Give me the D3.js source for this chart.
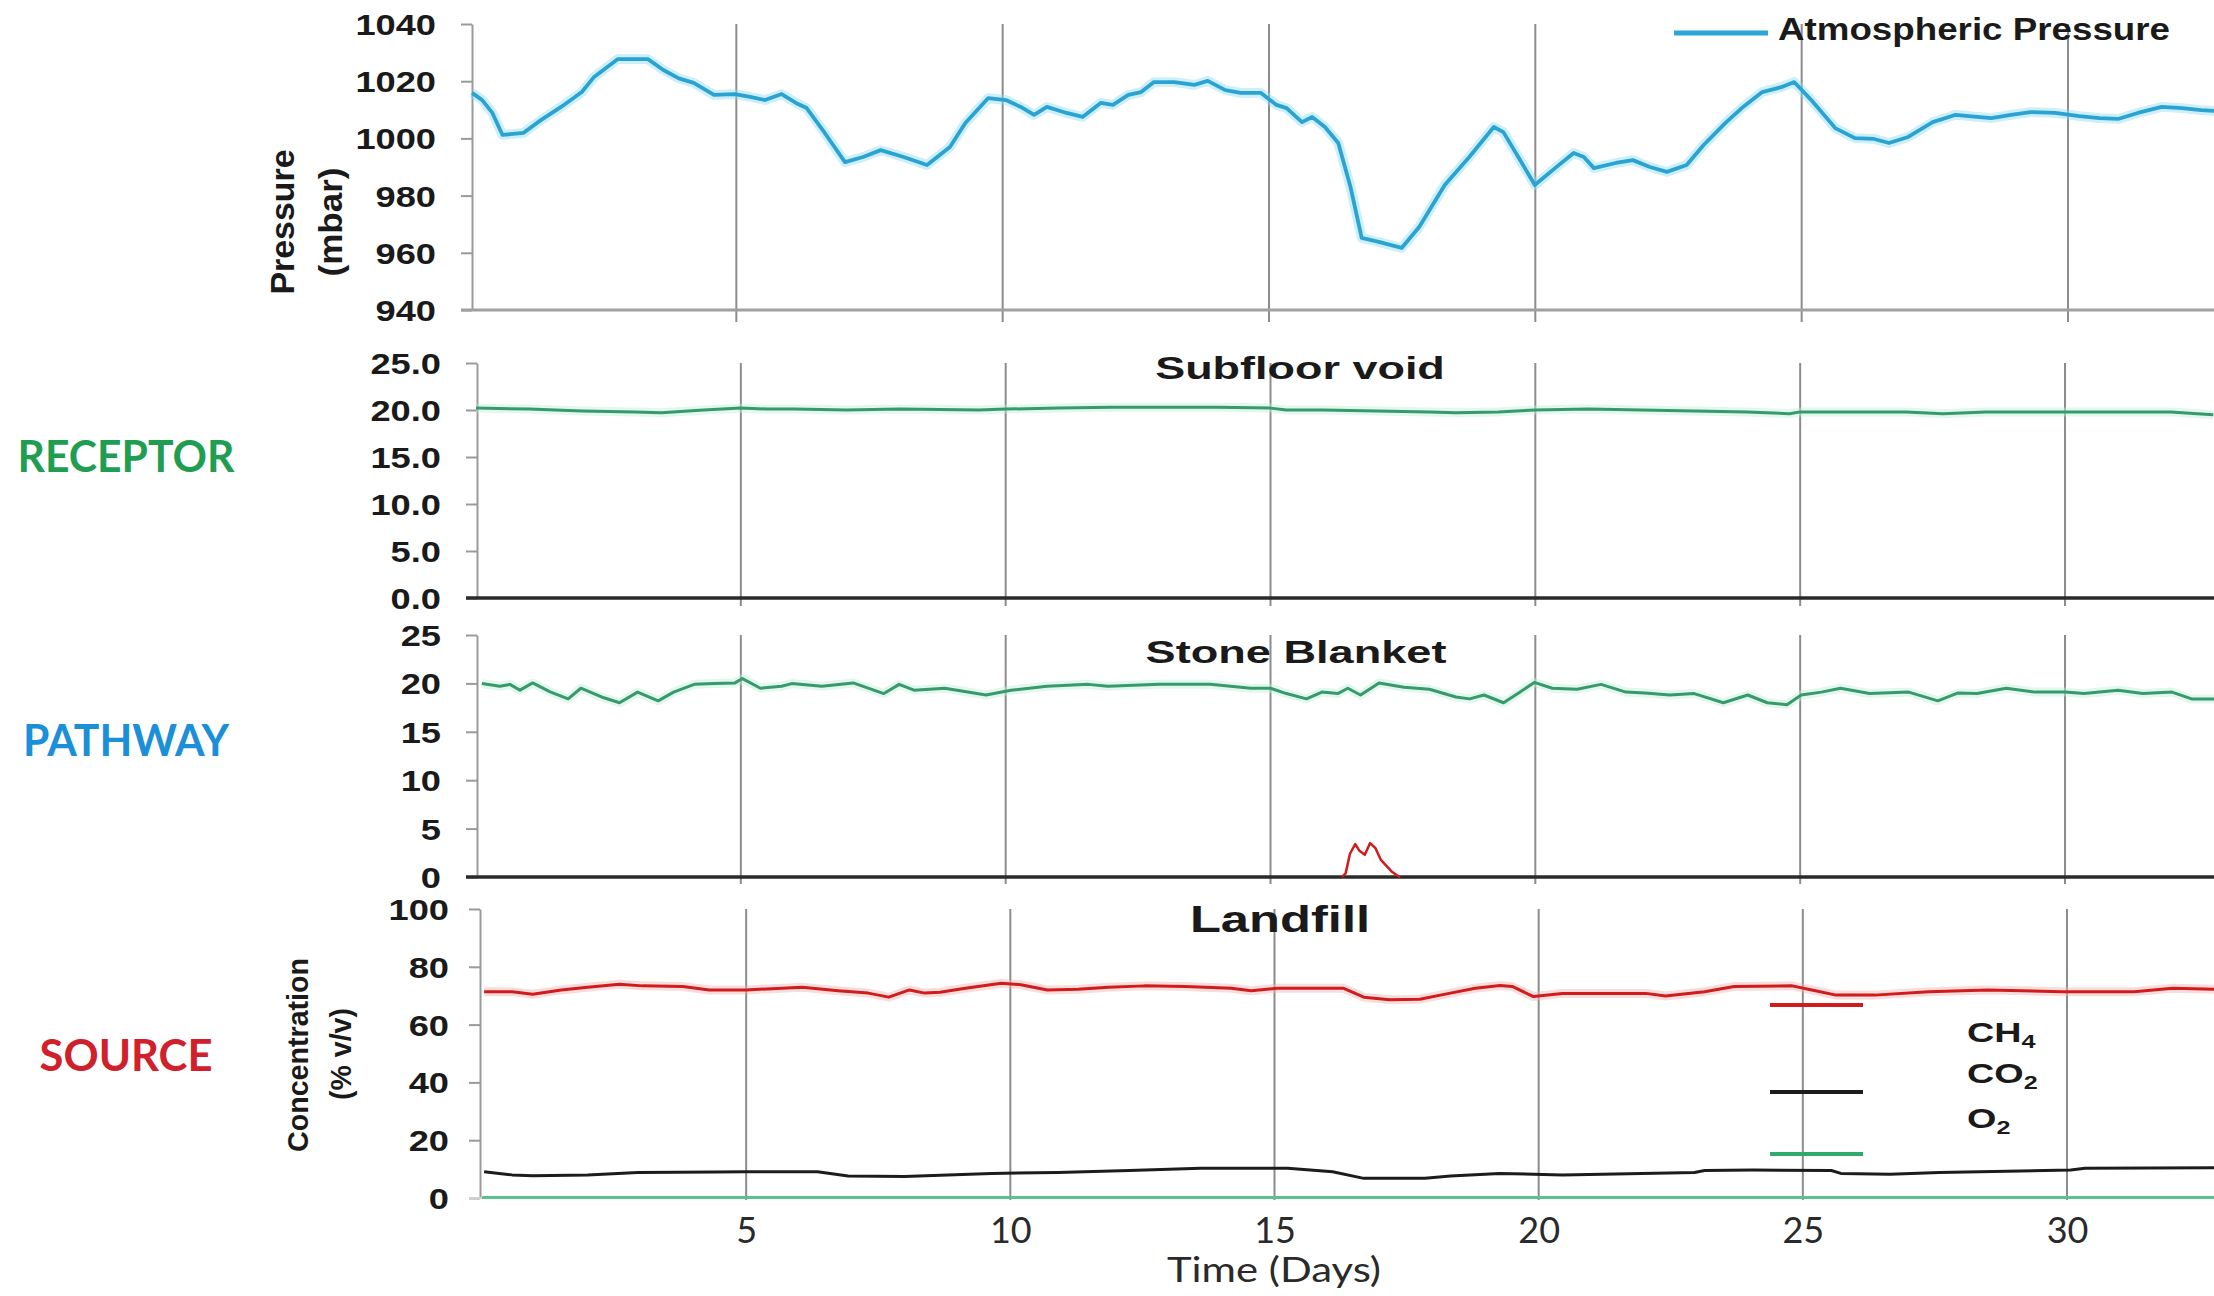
<!DOCTYPE html>
<html><head><meta charset="utf-8">
<script src="https://cdn.jsdelivr.net/npm/d3@7"></script>
<style>html,body{margin:0;padding:0;background:#fff;overflow:hidden}svg{display:block}</style>
</head><body>
<script>
// ---------- DATA ----------
const xTicks = [5, 10, 15, 20, 25, 30];
const pressureTicks = [940, 960, 980, 1000, 1020, 1040];
const receptorTicks = [0, 5, 10, 15, 20, 25];
const pathwayTicks = [0, 5, 10, 15, 20, 25];
const landfillTicks = [0, 20, 40, 60, 80, 100];

// Atmospheric pressure (mbar) [day, value]
const pressure = [[0.04,1015.9],[0.23,1013.4],[0.42,1008.9],[0.61,1001.2],[1.0,1001.9],[1.33,1006.4],[1.71,1011],[2.1,1016.2],[2.33,1021.5],[2.77,1027.7],[3.34,1027.7],[3.63,1023.9],[3.92,1021],[4.2,1019.4],[4.58,1015.2],[4.97,1015.5],[5.26,1014.5],[5.54,1013.4],[5.85,1015.5],[6.12,1012.4],[6.32,1010.6],[6.66,1001.9],[7.04,991.7],[7.38,993.5],[7.71,995.9],[8.14,993.5],[8.58,990.7],[9.01,997],[9.3,1005.4],[9.73,1014.1],[10.06,1013.4],[10.34,1011],[10.59,1008.2],[10.83,1011],[11.2,1008.9],[11.5,1007.5],[11.84,1012.4],[12.07,1011.7],[12.36,1015.2],[12.6,1016.2],[12.84,1019.7],[13.22,1019.7],[13.6,1018.7],[13.85,1020.1],[14.18,1016.9],[14.47,1015.9],[14.85,1015.9],[15.14,1011.7],[15.33,1010.6],[15.62,1005.7],[15.81,1007.5],[16.05,1004],[16.3,998.4],[16.53,983],[16.74,965.2],[17.06,963.8],[17.49,961.7],[17.82,969],[18.3,983.7],[18.76,993.5],[19.22,1004],[19.4,1002.2],[19.68,993.5],[19.99,983.7],[20.37,989.6],[20.72,994.9],[20.91,993.5],[21.1,989.6],[21.51,991.4],[21.83,992.4],[22.15,990],[22.47,988.3],[22.84,990.7],[23.16,997.7],[23.57,1005.4],[23.9,1011],[24.26,1016.2],[24.63,1018],[24.86,1019.7],[25.18,1013.4],[25.63,1003.6],[26.0,1000.1],[26.36,999.8],[26.64,998.4],[27.0,1000.5],[27.46,1005.7],[27.88,1008.2],[28.29,1007.5],[28.56,1007.1],[28.93,1008.2],[29.3,1009.2],[29.76,1008.9],[30.21,1007.8],[30.59,1007.1],[30.94,1006.8],[31.31,1008.9],[31.76,1011],[32.14,1010.6],[32.5,1009.9],[32.75,1009.6]];

// Subfloor void O2 (% v/v)
const receptorO2 = [[0,20.2],[1,20.1],[2,19.9],[3,19.8],[3.5,19.7],[4.3,20.0],[5,20.2],[5.5,20.1],[6,20.1],[7,20.0],[8,20.1],[9.5,20.0],[10,20.1],[11,20.2],[12,20.3],[13,20.3],[14,20.3],[15,20.2],[15.3,20.0],[16,20.0],[17,19.9],[18,19.8],[18.5,19.7],[19.3,19.8],[20,20.0],[21,20.1],[22,20.0],[23,19.9],[24,19.8],[24.8,19.6],[25,19.8],[26,19.8],[27,19.8],[27.7,19.6],[28.5,19.8],[30,19.8],[31,19.8],[32,19.8],[32.5,19.6],[32.8,19.5]];

// Stone blanket O2 and CH4 (% v/v)
const pathwayO2 = [[0.11,19.98],[0.45,19.7],[0.64,19.9],[0.83,19.3],[1.07,20.05],[1.4,19.13],[1.74,18.4],[1.98,19.5],[2.37,18.6],[2.71,18.0],[3.05,19.1],[3.44,18.2],[3.73,19.1],[4.12,19.9],[4.5,20.0],[4.89,20.05],[5.03,20.5],[5.37,19.5],[5.77,19.7],[5.96,19.98],[6.53,19.7],[7.12,20.05],[7.7,18.95],[7.99,19.9],[8.27,19.3],[8.85,19.5],[9.63,18.8],[10.1,19.3],[10.78,19.7],[11.56,19.9],[11.93,19.7],[12.9,19.9],[13.86,19.9],[14.63,19.5],[15.0,19.5],[15.3,18.95],[15.68,18.4],[15.97,19.1],[16.27,18.95],[16.46,19.5],[16.7,18.8],[17.05,20.05],[17.52,19.6],[18.0,19.4],[18.5,18.6],[18.76,18.4],[19.03,18.8],[19.4,18.0],[19.67,18.95],[19.98,20.1],[20.32,19.5],[20.79,19.4],[21.24,19.9],[21.71,19.1],[22.07,19.0],[22.54,18.8],[23.0,18.95],[23.55,18.0],[24.01,18.8],[24.38,18.0],[24.75,17.8],[25.02,18.8],[25.4,19.1],[25.76,19.5],[26.31,18.95],[27.05,19.1],[27.6,18.2],[27.97,19.0],[28.34,18.95],[28.89,19.5],[29.44,19.1],[30.0,19.1],[30.36,18.95],[31.0,19.3],[31.47,18.95],[32.02,19.1],[32.39,18.4],[32.83,18.4]];
const pathwayCH4 = [[16.35,0],[16.42,0.4],[16.5,2.4],[16.6,3.4],[16.68,2.7],[16.78,2.3],[16.88,3.5],[16.98,3.0],[17.08,1.8],[17.18,1.2],[17.28,0.6],[17.38,0.2],[17.45,0]];

// Landfill gas (% v/v)
const landfillCH4 = [[0.04,71.4],[0.57,71.4],[0.96,70.5],[1.5,72.0],[2.0,72.9],[2.6,74.0],[3.04,73.4],[3.8,73.2],[4.3,72.0],[5.0,72.0],[6.06,72.9],[6.74,71.7],[7.31,70.9],[7.7,69.5],[8.09,72.0],[8.38,70.9],[8.67,71.2],[9.15,72.6],[9.83,74.3],[10.2,73.8],[10.7,72.0],[11.28,72.2],[11.86,72.9],[12.54,73.4],[13.31,73.2],[14.18,72.6],[14.56,71.7],[15.05,72.6],[16.3,72.6],[16.69,69.5],[17.18,68.6],[17.75,68.8],[18.33,70.9],[18.8,72.6],[19.27,73.5],[19.5,73.2],[19.9,69.7],[20.45,70.8],[22.03,70.8],[22.4,69.9],[23.14,71.4],[23.7,73.2],[24.8,73.4],[25.17,72.0],[25.63,70.2],[26.36,70.2],[27.38,71.4],[28.5,72.0],[29.9,71.4],[31.27,71.4],[32.0,72.6],[32.8,72.2]];
const landfillCO2 = [[0.04,9.1],[0.57,8.0],[0.96,7.7],[2.0,8.0],[2.95,8.8],[4.4,9.0],[5.0,9.1],[6.35,9.1],[6.93,7.6],[7.99,7.4],[9.64,8.5],[10.9,8.8],[12.25,9.5],[13.6,10.3],[15.25,10.3],[16.1,9.1],[16.69,6.8],[17.85,6.8],[18.33,7.6],[19.26,8.5],[20.45,8.0],[22.95,8.8],[23.14,9.5],[24.05,9.7],[25.54,9.5],[25.72,8.5],[26.65,8.2],[27.58,8.8],[30.07,9.7],[30.34,10.3],[32.8,10.5]];
const landfillO2 = [[0,0.2],[10,0.2],[20,0.2],[32.8,0.2]];

// ---------- DRAW ----------
const W = 2214, H = 1296;
const FONT = "'Liberation Sans', Arial, sans-serif";
const svg = d3.select("body").append("svg").attr("width", W).attr("height", H)
  .style("background", "#fff");

const BLUE = "#2aa3d3", GREEN = "#37996c", RED = "#d01c1c", BLACK = "#1c1c1c";

function stext(g, x, y, str, o) {
  const t = g.append("text")
    .attr("transform", `translate(${x},${y}) scale(${o.sx || 1},1)`)
    .attr("text-anchor", o.anchor || "start")
    .attr("font-family", o.family || FONT)
    .attr("font-weight", o.weight || "bold")
    .attr("font-size", o.size)
    .attr("fill", o.fill || "#1a1a1a")
    .text(str);
  return t;
}

function panel(cfg) {
  const x = d3.scaleLinear().domain([0, 30]).range(cfg.xr);
  const y = d3.scaleLinear().domain(cfg.yd).range(cfg.yr);
  const g = svg.append("g");
  g.selectAll("line.grid").data(xTicks).join("line")
    .attr("x1", d => x(d)).attr("x2", d => x(d))
    .attr("y1", cfg.yr[1]).attr("y2", cfg.gridBottom)
    .attr("stroke", "#8c8c8c").attr("stroke-width", 2);
  const ax = g.append("g").attr("transform", `translate(${cfg.axisX},0)`)
    .call(d3.axisLeft(y).tickValues(cfg.ticks).tickSize(11).tickSizeOuter(0).tickFormat(cfg.fmt));
  ax.select(".domain").attr("stroke", "#9a9a9a").attr("stroke-width", 2);
  ax.selectAll(".tick line").attr("stroke", "#9a9a9a").attr("stroke-width", 2);
  ax.selectAll(".tick text")
    .attr("x", null).attr("dy", "0.36em")
    .attr("transform", `translate(${-cfg.labelGap},0) scale(1.25,1)`)
    .attr("font-family", FONT).attr("font-weight", "bold").attr("font-size", 29)
    .attr("fill", "#1a1a1a");
  g.append("line").attr("x1", cfg.axisX - 11).attr("x2", W)
    .attr("y1", cfg.yr[0]).attr("y2", cfg.yr[0])
    .attr("stroke", cfg.bottomColor).attr("stroke-width", cfg.bottomWidth);
  return {x, y, g};
}

function drawLine(p, data, color, width, halo) {
  const line = d3.line().x(d => p.x(d[0])).y(d => p.y(d[1]));
  if (halo) p.g.append("path").attr("d", line(data)).attr("fill", "none")
    .attr("stroke", halo).attr("stroke-width", width + 6).attr("stroke-opacity", 0.45)
    .attr("stroke-linejoin", "round");
  p.g.append("path").attr("d", line(data)).attr("fill", "none")
    .attr("stroke", color).attr("stroke-width", width).attr("stroke-linejoin", "round");
}

// Panel 1: pressure
const p1 = panel({xr: [470, 2068], yd: [940, 1040], yr: [310, 24], gridBottom: 322, axisX: 472,
  ticks: pressureTicks, fmt: d3.format("d"), labelGap: 36, bottomColor: "#a0a0a0", bottomWidth: 3});
drawLine(p1, pressure, BLUE, 3.8, "#8fdcf3");

// Panel 2: subfloor void
const p2 = panel({xr: [476, 2065], yd: [0, 25], yr: [598, 363], gridBottom: 606, axisX: 477,
  ticks: receptorTicks, fmt: d3.format(".1f"), labelGap: 36, bottomColor: "#2a2a2a", bottomWidth: 3.5});
drawLine(p2, receptorO2, GREEN, 3, "#bfeed7");

// Panel 3: stone blanket
const p3 = panel({xr: [476, 2065], yd: [0, 25], yr: [877, 635], gridBottom: 884, axisX: 477,
  ticks: pathwayTicks, fmt: d3.format("d"), labelGap: 36, bottomColor: "#2a2a2a", bottomWidth: 3.5});
drawLine(p3, pathwayO2, GREEN, 3, "#bfeed7");
drawLine(p3, pathwayCH4, RED, 2.5, null);

// Panel 4: landfill
const p4 = panel({xr: [482, 2067], yd: [0, 100], yr: [1198, 909], gridBottom: 1200, axisX: 480,
  ticks: landfillTicks, fmt: d3.format("d"), labelGap: 31, bottomColor: "#cfcfcf", bottomWidth: 2});
drawLine(p4, landfillO2, "#5cc08a", 3, null);
drawLine(p4, landfillCO2, BLACK, 3, null);
drawLine(p4, landfillCH4, RED, 3, "#f2b3b3");

// x axis labels under panel 4
const xa = svg.append("g").attr("transform", "translate(0,1198)")
  .call(d3.axisBottom(p4.x).tickValues(xTicks).tickSize(0).tickPadding(19).tickFormat(d3.format("d")));
xa.select(".domain").remove();
xa.selectAll(".tick text").attr("font-family", "Lato, 'Open Sans', sans-serif")
  .attr("font-size", 36).attr("font-weight", "normal").attr("fill", "#2a2a2a");
svg.append("text").attr("x", 1274).attr("y", 1282).attr("text-anchor", "middle")
  .attr("font-family", "Lato, 'Open Sans', sans-serif").attr("font-size", 35).attr("fill", "#2a2a2a")
  .attr("textLength", 214).attr("lengthAdjust", "spacingAndGlyphs").text("Time (Days)");

// Panel titles
stext(svg, 1300, 379, "Subfloor void", {anchor: "middle", size: 31, sx: 1.45});
stext(svg, 1296, 663, "Stone Blanket", {anchor: "middle", size: 32, sx: 1.41});
stext(svg, 1280, 932, "Landfill", {anchor: "middle", size: 37, sx: 1.37});

// Pressure legend
svg.append("line").attr("x1", 1674).attr("x2", 1768).attr("y1", 33).attr("y2", 33)
  .attr("stroke", "#2aa6d8").attr("stroke-width", 5);
svg.append("text").attr("x", 1778).attr("y", 40).attr("font-family", FONT).attr("font-weight", "bold")
  .attr("font-size", 31).attr("fill", "#1a1a1a").attr("textLength", 392)
  .attr("lengthAdjust", "spacingAndGlyphs").text("Atmospheric Pressure");

// Gas legend
const legendItems = [
  {base: "CH", sub: "4", color: RED, lineY: 1005, textY: 1042},
  {base: "CO", sub: "2", color: BLACK, lineY: 1092, textY: 1083},
  {base: "O", sub: "2", color: "#2faa6c", lineY: 1154, textY: 1128}
];
legendItems.forEach(it => {
  svg.append("line").attr("x1", 1770).attr("x2", 1863).attr("y1", it.lineY).attr("y2", it.lineY)
    .attr("stroke", it.color).attr("stroke-width", 4);
  const t = stext(svg, 1967, it.textY, "", {size: 27, sx: 1.4});
  t.append("tspan").text(it.base);
  t.append("tspan").attr("font-size", 18).attr("dy", 6).text(it.sub);
});

// Y-axis titles (rotated)
function vtext(cx, cy, str, size, len) {
  svg.append("text").attr("transform", `translate(${cx},${cy}) rotate(-90)`)
    .attr("text-anchor", "middle").attr("font-family", FONT).attr("font-weight", "bold")
    .attr("font-size", size).attr("fill", "#1a1a1a")
    .attr("textLength", len).attr("lengthAdjust", "spacingAndGlyphs").text(str);
}
vtext(294, 222, "Pressure", 33, 145);
vtext(342, 222, "(mbar)", 33, 109);
vtext(308, 1055, "Concentration", 29, 194);
vtext(351, 1054, "(% v/v)", 29, 92);

// Category labels
const cats = [
  {t: "RECEPTOR", c: "#1f9d50", y: 472, w: 217},
  {t: "PATHWAY", c: "#1c8fd9", y: 756, w: 206},
  {t: "SOURCE", c: "#d0202c", y: 1071, w: 173}
];
cats.forEach(c => {
  svg.append("text").attr("x", 126).attr("y", c.y).attr("text-anchor", "middle")
    .attr("font-family", "Lato, 'Open Sans', sans-serif").attr("font-weight", "bold")
    .attr("font-size", 44).attr("fill", c.c)
    .attr("textLength", c.w).attr("lengthAdjust", "spacingAndGlyphs").text(c.t);
});
</script>
</body></html>
